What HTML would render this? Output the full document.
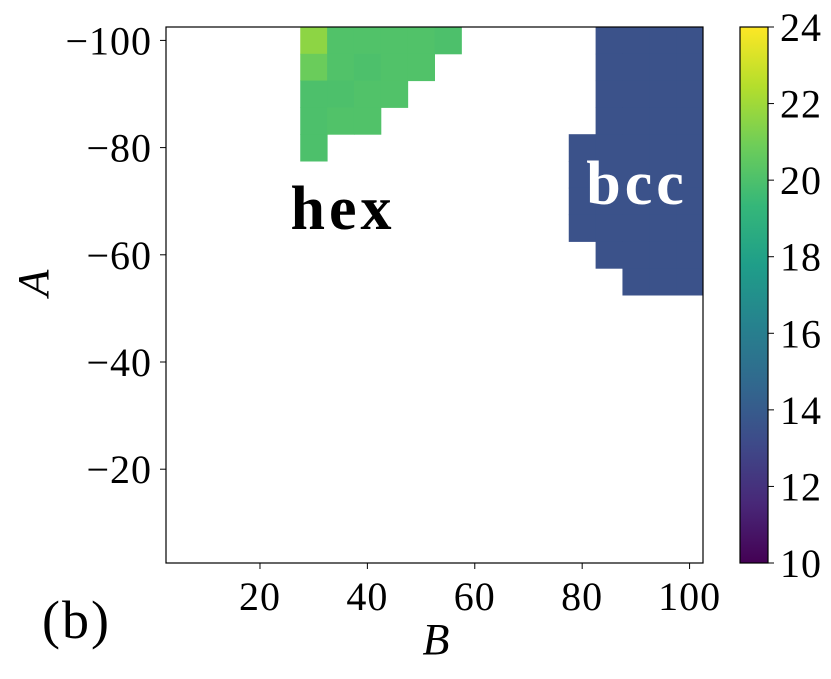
<!DOCTYPE html>
<html><head><meta charset="utf-8"><style>
body{margin:0;background:#fff;width:831px;height:674px;overflow:hidden}
svg text{font-family:"Liberation Serif",serif;fill:#000}
</style></head><body>
<svg id="c" width="831" height="674"></svg>
<script>
const bValues=[5,10,15,20,25,30,35,40,45,50,55,60,65,70,75,80,85,90,95,100];
const aValues=[-100,-95,-90,-85,-80,-75,-70,-65,-60,-55,-50,-45,-40,-35,-30,-25,-20,-15,-10,-5];
// cells: [A, B, value]
const hexCells=[[-100,30,21.6],[-100,35,20.1],[-100,40,20.1],[-100,45,20.1],[-100,50,20.1],[-100,55,20.0],
[-95,30,20.8],[-95,35,20.1],[-95,40,20.0],[-95,45,20.1],[-95,50,20.1],
[-90,30,20.0],[-90,35,20.0],[-90,40,20.1],[-90,45,20.1],
[-85,30,20.0],[-85,35,20.1],[-85,40,20.1],[-80,30,20.0]];
const bccRows=[[-100,85],[-95,85],[-90,85],[-85,85],[-80,80],[-75,80],[-70,80],[-65,80],[-60,85],[-55,90]];
const bccValue=13.5;
const xTicks=[20,40,60,80,100];
const yTicks=[-100,-80,-60,-40,-20];
const cbTicks=[10,12,14,16,18,20,22,24];
const NS="http://www.w3.org/2000/svg";
const svg=document.getElementById('c');
const L=166,R=703,T=27,Bt=563;
const x=b=>L+(b-2.5)/100*(R-L);
const y=a=>T+(a+102.5)/100*(Bt-T);
const vir=[[68,1,84],[72,40,120],[62,74,137],[49,104,142],[38,130,142],[31,158,137],[53,183,121],[109,205,89],[180,222,44],[253,231,37]];
function col(v){let t=Math.max(0,Math.min(1,(v-10)/14))*9;let i=Math.min(8,Math.floor(t)),f=t-i;
const c=vir[i].map((q,k)=>Math.round(q+(vir[i+1][k]-q)*f));return `rgb(${c})`;}
function el(t,a,txt){const e=document.createElementNS(NS,t);for(const k in a)e.setAttribute(k,a[k]);if(txt!==undefined)e.textContent=txt;svg.appendChild(e);return e;}
hexCells.forEach(c=>{const r=el('rect',{x:x(c[1]-2.5),y:y(c[0]-2.5),width:x(c[1]+2.5)-x(c[1]-2.5)+0.5,height:y(c[0]+2.5)-y(c[0]-2.5)+0.5,fill:col(c[2])});

});
bccRows.forEach(rw=>{bValues.filter(b=>b>=rw[1]).forEach(b=>{const r=el('rect',{x:x(b-2.5),y:y(rw[0]-2.5),width:x(b+2.5)-x(b-2.5)+0.5,height:y(rw[0]+2.5)-y(rw[0]-2.5)+0.5,fill:col(bccValue)});

});});
let f=el('rect',{x:L,y:T,width:R-L,height:Bt-T,fill:'none',stroke:'#000','stroke-width':1.2});

xTicks.forEach(v=>{el('line',{x1:x(v),x2:x(v),y1:Bt,y2:Bt+6,stroke:'#000'});
const t=el('text',{x:x(v),y:Bt+47,'font-size':40,'letter-spacing':1,'text-anchor':'middle'},v);});
yTicks.forEach(v=>{el('line',{x1:L-6,x2:L,y1:y(v),y2:y(v),stroke:'#000'});
const t=el('text',{x:L-14,y:y(v)+14,'font-size':40,'letter-spacing':1,'text-anchor':'end'},'\u2212'+Math.abs(v));});
let t;
t=el('text',{x:436,y:654,'font-size':44,'font-style':'italic','text-anchor':'middle'},'B');
t=el('text',{x:0,y:0,'font-size':44,'font-style':'italic','text-anchor':'middle',transform:'translate(48,283) rotate(-90)'},'A');
t=el('text',{x:42,y:638,'font-size':54,'letter-spacing':2},'(b)');
t=el('text',{x:343,y:229,'font-size':62,'font-weight':'bold','letter-spacing':4,'text-anchor':'middle'},'hex');
t=el('text',{x:637,y:204,'font-size':62,'font-weight':'bold','letter-spacing':4,'text-anchor':'middle',style:'fill:#fff'},'bcc');
// colorbar
const cbL=740,cbR=768;
const cy=v=>Bt-(v-10)/14*(Bt-T);
const defs=el('defs',{});const g=document.createElementNS(NS,'linearGradient');g.setAttribute('id','vg');g.setAttribute('x1',0);g.setAttribute('y1',1);g.setAttribute('x2',0);g.setAttribute('y2',0);defs.appendChild(g);
vir.forEach((c,i)=>{const s=document.createElementNS(NS,'stop');s.setAttribute('offset',i/9);s.setAttribute('stop-color',`rgb(${c})`);g.appendChild(s);});
f=el('rect',{x:cbL,y:T,width:cbR-cbL,height:Bt-T,fill:'url(#vg)',stroke:'#000','stroke-width':1.2});
cbTicks.forEach(v=>{el('line',{x1:cbR,x2:cbR+6,y1:cy(v),y2:cy(v),stroke:'#000'});
const tt=el('text',{x:cbR+12,y:cy(v)+14,'font-size':40,'letter-spacing':1},v);});
</script></body></html>
